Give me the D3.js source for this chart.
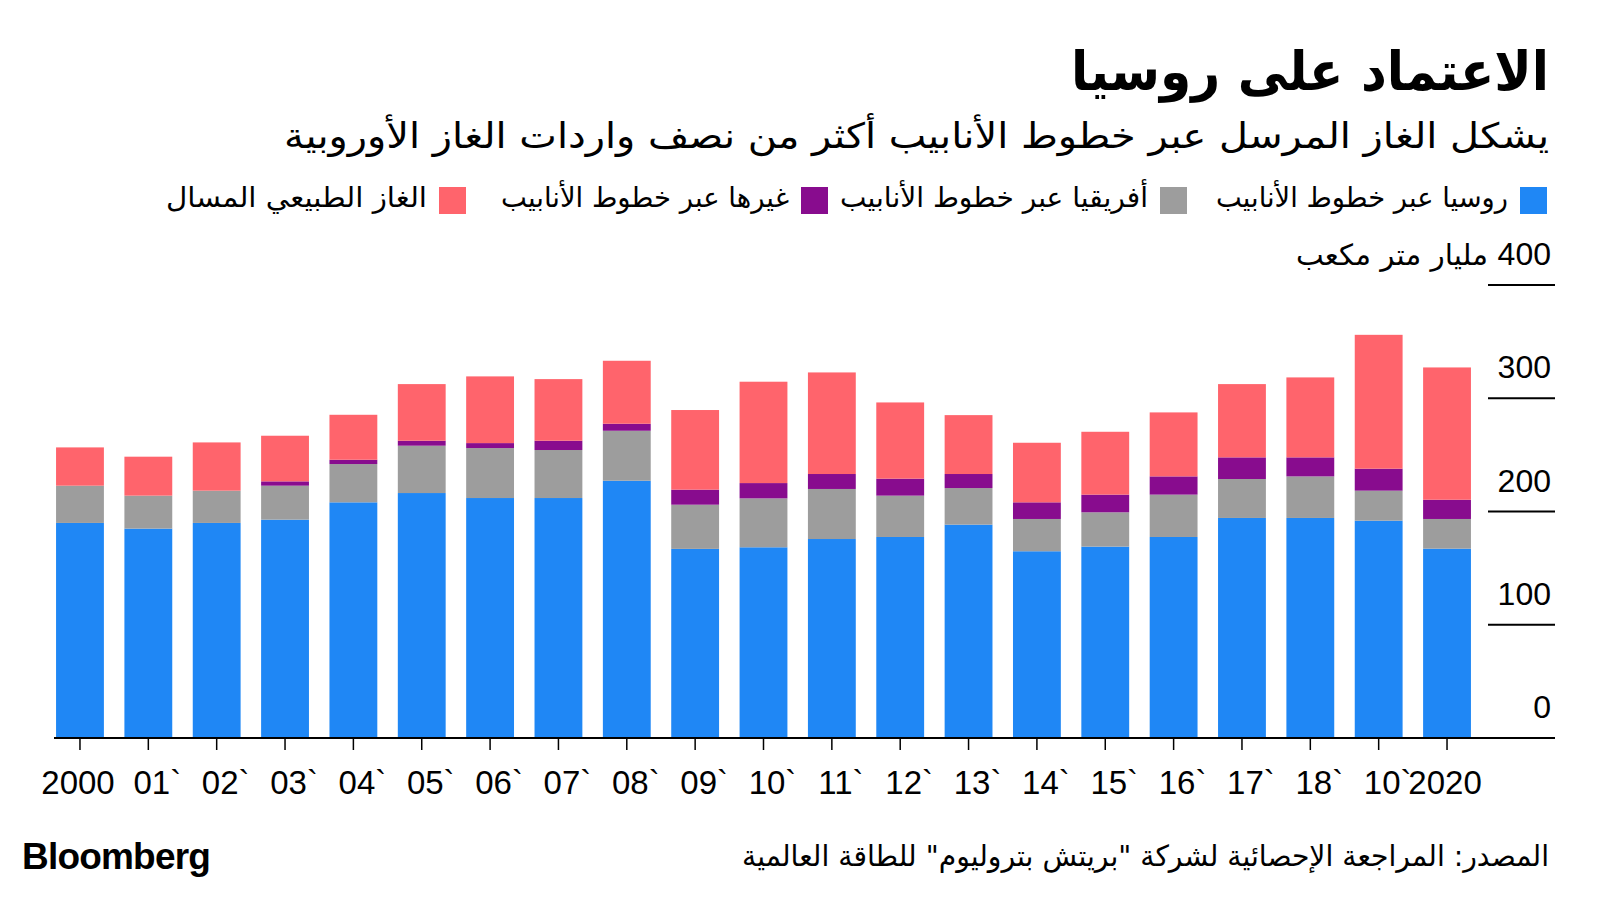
<!DOCTYPE html>
<html><head><meta charset="utf-8">
<script src="https://cdn.jsdelivr.net/npm/d3@7"></script>
<style>body{margin:0;background:#fff} svg{display:block}</style>
</head><body>
<svg id="chart" width="1600" height="900"></svg>
<script>
const years = ["2000","2001","2002","2003","2004","2005","2006","2007","2008","2009","2010","2011","2012","2013","2014","2015","2016","2017","2018","2019","2020"];
const tickLabels = ["2000","01`","02`","03`","04`","05`","06`","07`","08`","09`","10`","11`","12`","13`","14`","15`","16`","17`","18`","10`","2020"];
const russiaPipeline = [189.9,184.9,189.9,192.8,208.1,216.3,211.9,211.9,227.2,167.0,168.4,175.7,177.5,188.4,164.9,169.0,177.5,194.3,194.3,191.9,167.2];
const africaPipeline = [32.9,29.1,28.5,30.0,33.8,41.8,44.1,42.4,44.1,39.0,43.2,44.2,36.5,32.3,28.5,30.3,37.4,34.4,36.7,26.5,26.2];
const otherPipeline  = [0,0,0,3.8,3.8,4.4,4.4,8.2,6.2,13.3,13.5,13.2,15.0,12.4,14.7,15.6,16.1,19.1,16.8,19.4,17.0];
const lng            = [33.8,34.4,42.6,40.3,39.7,50.0,58.9,54.4,55.6,70.3,89.5,89.7,67.3,52.0,52.6,55.5,56.5,64.7,70.6,118.2,116.8];
const seriesKeys = ["russia","africa","other","lng"];
const seriesNames = ["روسيا عبر خطوط الأنابيب","أفريقيا عبر خطوط الأنابيب","غيرها عبر خطوط الأنابيب","الغاز الطبيعي المسال"];
const seriesColors = ["#1f87f5","#9d9d9d","#880c8e","#ff646c"];
const yTicks = [0,100,200,300,400];
const yUnit = "مليار متر مكعب";
const title = "الاعتماد على روسيا";
const subtitle = "يشكل الغاز المرسل عبر خطوط الأنابيب أكثر من نصف واردات الغاز الأوروبية";
const source = "المصدر: المراجعة الإحصائية لشركة \"بريتش بتروليوم\" للطاقة العالمية";

const arabicFont = "'DejaVu Sans',sans-serif";
const latinFont = "'Liberation Sans',Arial,sans-serif";

const svg = d3.select("#chart");
const rows = years.map((y,i)=>({year:y, russia:russiaPipeline[i], africa:africaPipeline[i], other:otherPipeline[i], lng:lng[i]}));
const stacked = d3.stack().keys(seriesKeys)(rows);

const x = d3.scaleBand().domain(years).range([45.8,1481.2]).paddingInner(0.3).paddingOuter(0.15);
const y = d3.scaleLinear().domain([0,400]).range([738,285]);
const color = d3.scaleOrdinal().domain(seriesKeys).range(seriesColors);

// bars
svg.append("g").selectAll("g").data(stacked).join("g")
  .attr("fill", d=>color(d.key))
  .selectAll("rect").data(d=>d).join("rect")
  .attr("x", d=>x(d.data.year))
  .attr("width", x.bandwidth())
  .attr("y", d=>y(d[1]))
  .attr("height", d=>Math.max(0, y(d[0])-y(d[1])));

// right gridlines + labels
const gy = svg.append("g");
gy.selectAll("line").data(yTicks).join("line")
  .attr("x1",1488).attr("x2",1555)
  .attr("y1",d=>y(d)).attr("y2",d=>y(d))
  .attr("stroke","#000").attr("stroke-width",2);
gy.selectAll("text").data(yTicks).join("text")
  .attr("x",1551).attr("y",d=>y(d)-20)
  .attr("text-anchor","end")
  .attr("font-family", latinFont)
  .attr("font-size",32)
  .attr("fill","#000")
  .text(d=> String(d));
gy.append("text").attr("x",1488).attr("y",y(400)-20)
  .attr("text-anchor","end")
  .attr("font-family",arabicFont).attr("font-size",29)
  .attr("textLength",192).attr("lengthAdjust","spacingAndGlyphs")
  .attr("fill","#000").text(yUnit);

// baseline + ticks
svg.append("line").attr("x1",54).attr("x2",1555).attr("y1",y(0)).attr("y2",y(0))
  .attr("stroke","#000").attr("stroke-width",2);
const xAxis = d3.axisBottom(x).tickSize(12).tickFormat((d,i)=>tickLabels[i]);
const gx = svg.append("g").attr("transform",`translate(0,${y(0)})`).call(xAxis);
gx.select(".domain").remove();
gx.selectAll(".tick line").attr("stroke","#000").attr("stroke-width",1.5);
gx.selectAll(".tick text")
  .attr("font-family",latinFont).attr("font-size",33).attr("fill","#000")
  .attr("y",56).attr("dy",0)
  .attr("direction","ltr")
  .attr("dx",(d,i)=> tickLabels[i].includes("`") ? 9 : -2);

// title, subtitle
svg.append("text").attr("x",1549).attr("y",90).attr("text-anchor","end")
  .attr("font-family",arabicFont).attr("font-weight","bold").attr("font-size",54)
  .attr("textLength",478).attr("lengthAdjust","spacingAndGlyphs")
  .attr("fill","#000").text(title);
svg.append("text").attr("x",1549).attr("y",148).attr("text-anchor","end")
  .attr("font-family",arabicFont).attr("font-size",35)
  .attr("textLength",1265).attr("lengthAdjust","spacingAndGlyphs")
  .attr("fill","#000").text(subtitle);

// legend
const legendSquareX = [1520,1160,801,439];
const legendTextLen = [292,308,288,261];
const lg = svg.append("g").selectAll("g").data(seriesKeys).join("g");
lg.append("rect").attr("x",(d,i)=>legendSquareX[i]).attr("y",187).attr("width",27).attr("height",27)
  .attr("fill",d=>color(d));
lg.append("text").attr("x",(d,i)=>legendSquareX[i]-12).attr("y",207).attr("text-anchor","end")
  .attr("font-family",arabicFont).attr("font-size",28).attr("fill","#000")
  .attr("textLength",(d,i)=>legendTextLen[i]).attr("lengthAdjust","spacingAndGlyphs")
  .text((d,i)=>seriesNames[i]);

// footer
svg.append("text").attr("x",22).attr("y",869)
  .attr("font-family",latinFont).attr("font-weight","bold").attr("font-size",37)
  .attr("letter-spacing",-0.8).attr("fill","#000").text("Bloomberg");
svg.append("text").attr("x",1549).attr("y",866).attr("text-anchor","end")
  .attr("font-family",arabicFont).attr("font-size",29)
  .attr("textLength",807).attr("lengthAdjust","spacingAndGlyphs")
  .attr("fill","#000").text(source);
</script>
</body></html>
